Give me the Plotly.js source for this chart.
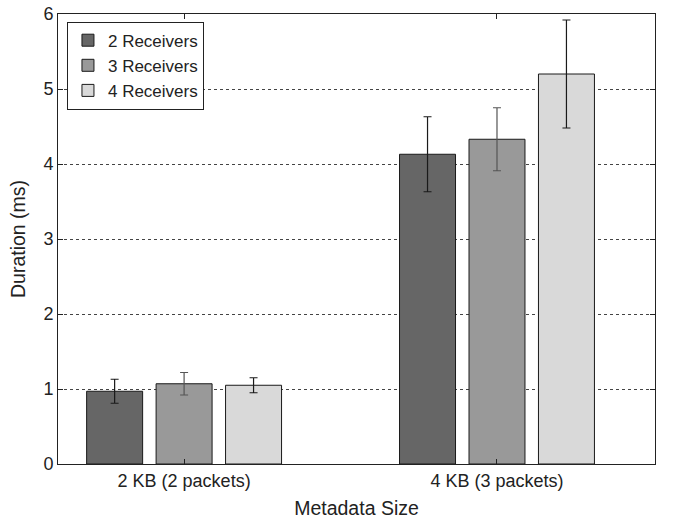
<!DOCTYPE html>
<html>
<head>
<meta charset="utf-8">
<script src="https://cdn.plot.ly/plotly-3.0.1.min.js"></script>
<style>html,body{margin:0;padding:0;background:#fff;}#chart{width:679px;height:521px;}</style>
</head>
<body>
<div id="chart"></div>
<script>
var categories = ["2 KB (2 packets)", "4 KB (3 packets)"];
var catPos = [1, 2];
var seriesNames = ["2 Receivers", "3 Receivers", "4 Receivers"];
var recv2 = [0.97, 4.13];
var recv3 = [1.07, 4.33];
var recv4 = [1.05, 5.20];
var err2 = [0.16, 0.50];
var err3 = [0.15, 0.42];
var err4 = [0.10, 0.72];
var yTicks = [0, 1, 2, 3, 4, 5, 6];

var colors = ["#666666", "#999999", "#d9d9d9"];
var errColors = ["#1a1a1a", "#555555", "#1a1a1a"];
var vals = [recv2, recv3, recv4];
var errs = [err2, err3, err4];

var traces = seriesNames.map(function (n, i) {
  return {
    type: "bar",
    name: n,
    x: catPos,
    y: vals[i],
    marker: {color: colors[i], line: {color: "#1a1a1a", width: 1}},
    error_y: {type: "data", array: errs[i], visible: true, color: errColors[i], thickness: 1.2, width: 4}
  };
});

var layout = {
  width: 679, height: 521,
  margin: {l: 58, r: 24, t: 14, b: 57},
  paper_bgcolor: "#fff", plot_bgcolor: "#fff",
  font: {family: "Liberation Sans, Arial, sans-serif", size: 17, color: "#222"},
  barmode: "group",
  bargap: 0.334,
  bargroupgap: 0.194,
  showlegend: true,
  legend: {
    x: 0.015, y: 0.983, xanchor: "left", yanchor: "top",
    bgcolor: "#fff", bordercolor: "#222", borderwidth: 1,
    font: {size: 17, color: "#222"},
    tracegroupgap: 2, itemwidth: 30
  },
  xaxis: {
    range: [0.597, 2.505],
    tickvals: catPos, ticktext: categories,
    ticks: "inside", ticklen: 5, tickcolor: "#222",
    showline: true, linecolor: "#222", linewidth: 1, mirror: "ticks",
    showgrid: false, zeroline: false,
    tickfont: {size: 18},
    title: {text: "Metadata Size", font: {size: 19.5}, standoff: 11}
  },
  yaxis: {
    range: [0, 6],
    tickvals: yTicks,
    ticks: "inside", ticklen: 5, tickcolor: "#222",
    showline: true, linecolor: "#222", linewidth: 1, mirror: "ticks",
    showgrid: true, gridcolor: "#444", griddash: "3px,3px", gridwidth: 1,
    zeroline: false,
    tickfont: {size: 18},
    title: {text: "Duration (ms)", font: {size: 19.5}, standoff: 12}
  }
};

Plotly.newPlot("chart", traces, layout, {displayModeBar: false, staticPlot: true});
</script>
</body>
</html>
